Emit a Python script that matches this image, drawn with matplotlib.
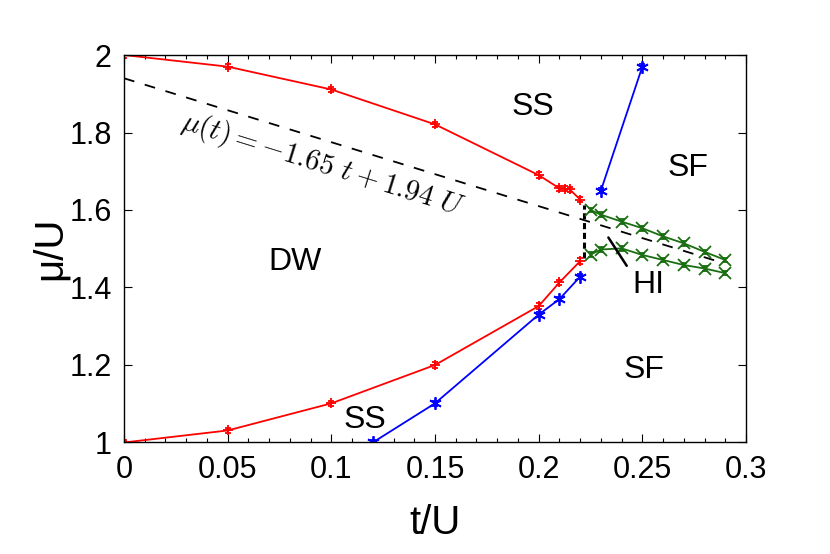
import numpy as np
import matplotlib
matplotlib.use('Agg')
from matplotlib import pyplot as plt
from matplotlib.ticker import MultipleLocator

plt.rcParams['font.family'] = ['Liberation Sans', 'DejaVu Sans']
plt.rcParams['mathtext.fontset'] = 'cm'

# red boundaries (DW - SS)
t_red_up = [0.0, 0.05, 0.10, 0.15, 0.20, 0.21, 0.2125, 0.215, 0.22]
mu_red_up = [2.0, 1.970, 1.911, 1.821, 1.690, 1.656, 1.655, 1.653, 1.627]
t_red_lo = [0.0, 0.05, 0.10, 0.15, 0.20, 0.21, 0.22]
mu_red_lo = [1.0, 1.031, 1.101, 1.200, 1.352, 1.413, 1.468]

# blue boundaries (SS - SF)
t_blue_lo = [0.12, 0.15, 0.20, 0.21, 0.22]
mu_blue_lo = [1.0, 1.101, 1.330, 1.370, 1.428]
t_blue_up = [0.23, 0.25]
mu_blue_up = [1.650, 1.970]

# green boundaries (HI)
t_green = [0.225, 0.23, 0.24, 0.25, 0.26, 0.27, 0.28, 0.29]
mu_green_up = [1.600, 1.588, 1.570, 1.553, 1.532, 1.514, 1.492, 1.471]
mu_green_lo = [1.485, 1.498, 1.501, 1.484, 1.471, 1.458, 1.449, 1.437]

fig = plt.figure(figsize=(8.3, 5.54), dpi=100)
ax = fig.add_axes([0.1494, 0.2013, 0.7494, 0.6994])

eb = dict(capsize=2.5, elinewidth=1.2, lw=1.3, mew=1.3)
ax.errorbar(t_red_up, mu_red_up, yerr=0.007, color='red', marker='+', ms=7, **eb)
ax.errorbar(t_red_lo, mu_red_lo, yerr=0.007, color='red', marker='+', ms=7, **eb)
ax.errorbar(t_blue_lo, mu_blue_lo, yerr=0.006, color='blue', marker=(6, 2, 0), ms=9, **eb)
ax.errorbar(t_blue_up, mu_blue_up, yerr=0.006, color='blue', marker=(6, 2, 0), ms=9, **eb)
ax.errorbar(t_green, mu_green_up, yerr=0.006, color='#1a6e12', marker='x', ms=8, **eb)
ax.errorbar(t_green, mu_green_lo, yerr=0.006, color='#1a6e12', marker='x', ms=8, **eb)

# fit line
tt = np.array([0.0, 0.285])
ax.plot(tt, -1.65 * tt + 1.94, 'k--', lw=1.3, dashes=(6, 6))
ax.plot([0.222, 0.222], [1.476, 1.612], color='k', lw=2.2, ls=(0, (2.0, 1.2)))

ax.text(0.0957, 1.716, r'$\mu(t) = -1.65\ t + 1.94\ U$', fontsize=21,
        rotation=-17.2, ha='center', va='center', rotation_mode='anchor')

lbl = dict(fontsize=23, ha='center', va='center')
ax.text(0.197, 1.866, 'SS', **lbl)
ax.text(0.272, 1.708, 'SF', **lbl)
ax.text(0.0826, 1.466, 'DW', **lbl)
ax.text(0.251, 1.187, 'SF', **lbl)
ax.text(0.116, 1.058, 'SS', **lbl)
ax.text(0.253, 1.406, 'HI', **lbl)
ax.annotate('', xy=(0.2329, 1.535), xytext=(0.2432, 1.450),
            arrowprops=dict(arrowstyle='-', color='k', lw=1.8))

ax.set_xlim(0, 0.3)
ax.set_ylim(1, 2)
ax.set_xticks([0, 0.05, 0.1, 0.15, 0.2, 0.25, 0.3])
ax.set_xticklabels(['0', '0.05', '0.1', '0.15', '0.2', '0.25', '0.3'])
ax.set_yticks([1, 1.2, 1.4, 1.6, 1.8, 2])
ax.set_yticklabels(['1', '1.2', '1.4', '1.6', '1.8', '2'])
ax.xaxis.set_minor_locator(MultipleLocator(0.01))
ax.tick_params(which='both', direction='in', top=True, right=True, labelsize=22)
ax.tick_params(which='major', length=6, width=0.8, pad=9)
ax.tick_params(which='minor', length=3, width=0.8)
for s in ax.spines.values():
    s.set_linewidth(1.0)

ax.set_xlabel('t/U', fontsize=29, labelpad=14)
ax.set_ylabel('μ/U', fontsize=29, labelpad=0)

fig.savefig('out.png', dpi=100)
